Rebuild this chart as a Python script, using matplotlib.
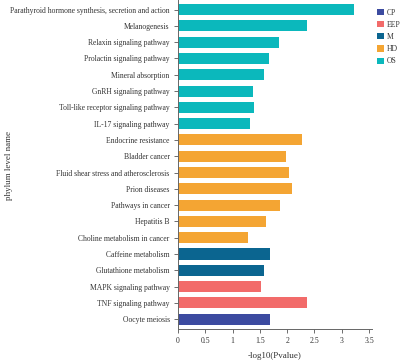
import matplotlib
matplotlib.use("Agg")
import matplotlib.pyplot as plt
from matplotlib.patches import Patch

# pathways listed top to bottom as in the figure
pathways = [
    "Parathyroid hormone synthesis, secretion and action",
    "Melanogenesis",
    "Relaxin signaling pathway",
    "Prolactin signaling pathway",
    "Mineral absorption",
    "GnRH signaling pathway",
    "Toll-like receptor signaling pathway",
    "IL-17 signaling pathway",
    "Endocrine resistance",
    "Bladder cancer",
    "Fluid shear stress and atherosclerosis",
    "Prion diseases",
    "Pathways in cancer",
    "Hepatitis B",
    "Choline metabolism in cancer",
    "Caffeine metabolism",
    "Glutathione metabolism",
    "MAPK signaling pathway",
    "TNF signaling pathway",
    "Oocyte meiosis",
]
values = [3.22, 2.36, 1.85, 1.66, 1.57, 1.38, 1.39, 1.31,
          2.28, 1.98, 2.04, 2.08, 1.86, 1.61, 1.29,
          1.68, 1.58, 1.52, 2.37, 1.69]
groups = ["OS"] * 8 + ["HD"] * 7 + ["M"] * 2 + ["EEP"] * 2 + ["CP"]

legend_order = ["CP", "EEP", "M", "HD", "OS"]
colors = {
    "CP": "#3c4ba0",
    "EEP": "#f26b6a",
    "M": "#0b6590",
    "HD": "#f4a533",
    "OS": "#0bb8bc",
}

plt.rcParams["font.family"] = ["Liberation Serif", "DejaVu Serif"]

fig = plt.figure(figsize=(4.02, 3.63), dpi=100)
ax = fig.add_axes([0.4428, 0.0937, 0.482, 0.906])

n = len(pathways)
ypos = list(range(n - 1, -1, -1))
ax.barh(ypos, values, height=0.68,
        color=[colors[g] for g in groups], edgecolor="none")

ax.set_yticks(ypos)
ax.set_yticklabels(pathways, fontsize=5.5, color="#333333")
ax.set_ylim(-0.6, n - 1 + 0.58)
ax.set_xlim(0, 3.55)
ax.set_xticks([0, 0.5, 1, 1.5, 2, 2.5, 3, 3.5])
ax.set_xticklabels(["0", "0.5", "1", "1.5", "2", "2.5", "3", "3.5"],
                   fontsize=5.6, color="#333333")
ax.tick_params(axis="both", length=3, width=0.6, color="#555555", pad=3)

for s in ["top", "right"]:
    ax.spines[s].set_visible(False)
for s in ["left", "bottom"]:
    ax.spines[s].set_color("#666666")
    ax.spines[s].set_linewidth(0.7)

ax.set_xlabel("-log10(Pvalue)", fontsize=6.5, color="#333333", labelpad=5)
fig.text(0.022, 0.545, "phylum level name", rotation=90, fontsize=6.5,
         color="#333333", ha="center", va="center")

handles = [Patch(facecolor=colors[g], edgecolor="none", label=g)
           for g in legend_order]
fig.legend(handles=handles, loc="upper left", bbox_to_anchor=(0.93, 0.985),
           frameon=False, fontsize=5.5, handlelength=0.9, handleheight=0.9,
           handletextpad=0.4, labelspacing=0.55, borderaxespad=0,
           labelcolor="#333333")

fig.savefig("out.png", dpi=100)
